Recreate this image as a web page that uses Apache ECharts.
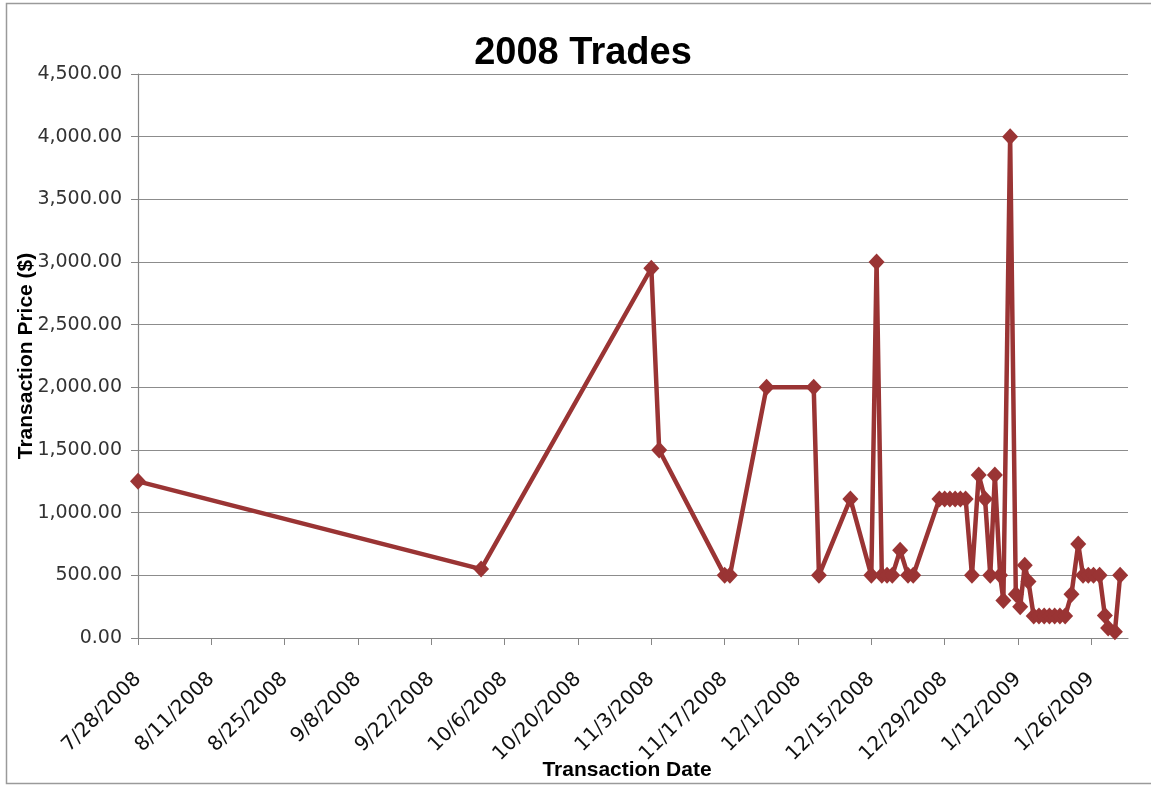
<!DOCTYPE html>
<html>
<head>
<meta charset="utf-8">
<script src="https://cdn.jsdelivr.net/npm/echarts@6/dist/echarts.min.js"></script>
<style>
html,body{margin:0;padding:0;background:#fff;}
#chart{width:1151px;height:785px;}
</style>
</head>
<body>
<div id="chart"></div>
<script>
// ---- data ----
var tradeDates = [
  '2008-07-28', '2008-10-01 12:00', '2008-11-03', '2008-11-04 12:00', '2008-11-17', '2008-11-18',
  '2008-11-25', '2008-12-04', '2008-12-05', '2008-12-11', '2008-12-15', '2008-12-16',
  '2008-12-17', '2008-12-18', '2008-12-19', '2008-12-20 12:00', '2008-12-22', '2008-12-23',
  '2008-12-28', '2008-12-29', '2008-12-30', '2008-12-31', '2009-01-01', '2009-01-02',
  '2009-01-03 05:00', '2009-01-04 12:00', '2009-01-05 17:00', '2009-01-06 17:00', '2009-01-07 14:00', '2009-01-08 14:00',
  '2009-01-09 05:00', '2009-01-10 12:00', '2009-01-11 14:00', '2009-01-12 10:00', '2009-01-13 07:00', '2009-01-14',
  '2009-01-15', '2009-01-16', '2009-01-17', '2009-01-18', '2009-01-19', '2009-01-20', '2009-01-21',
  '2009-01-22 05:00', '2009-01-23 12:00', '2009-01-24 10:00', '2009-01-25 10:00', '2009-01-26 10:00', '2009-01-27 14:00',
  '2009-01-28 14:00', '2009-01-29 05:00', '2009-01-30 12:00', '2009-01-31 12:00'
];
var tradePrices = [
  1250, 550, 2950, 1500, 500, 500,
  2000, 2000, 500, 1110, 500, 3000,
  500, 500, 500, 700, 500, 500,
  1110, 1110, 1110, 1110, 1110, 1110,
  500, 1300, 1110, 500, 1300, 500,
  300, 4000, 350, 250, 580, 450,
  175, 175, 175, 175, 175, 175, 175,
  350, 750, 500, 500, 500, 500,
  180, 80, 50, 500
];
var axisStartDate = '2008-07-28';
var axisEndDate = '2009-02-02';
var tickStepDays = 14;
var yMin = 0, yMax = 4500, yStep = 500;

// ---- helpers ----
function parseUTC(s) {
  var parts = s.split(' ');
  var d = parts[0].split('-');
  var t = parts[1] ? parts[1].split(':') : ['0', '0'];
  return Date.UTC(+d[0], +d[1] - 1, +d[2], +t[0], +t[1]);
}
var DAY = 86400000;
var base = parseUTC(axisStartDate);
function dayIndex(s) { return (parseUTC(s) - base) / DAY; }
function dayLabel(v) {
  var dt = new Date(base + Math.round(v) * DAY);
  return (dt.getUTCMonth() + 1) + '/' + dt.getUTCDate() + '/' + dt.getUTCFullYear();
}
function money(v) {
  return v.toFixed(2).replace(/\B(?=(\d{3})+(?!\d))/g, ',');
}

var points = tradeDates.map(function (d, i) { return [dayIndex(d), tradePrices[i]]; });

var chart = echarts.init(document.getElementById('chart'), null, {renderer: 'canvas'});
var axisColor = '#868686';
var lineColor = '#9a3434';

chart.setOption({
  animation: false,
  backgroundColor: '#ffffff',
  title: {
    text: '2008 Trades',
    left: 578, top: 30,
    textAlign: 'center',
    textStyle: {fontFamily: 'Liberation Sans, Arial, sans-serif', fontWeight: 'bold', fontSize: 38, color: '#000'}
  },
  graphic: [{
    type: 'rect', silent: true,
    shape: {x: 6.5, y: 3.5, width: 1160, height: 780},
    style: {fill: 'none', stroke: '#9a9a9a', lineWidth: 1.5}
  }],
  grid: {left: 138, right: 23, top: 74, bottom: 147, containLabel: false, outerBoundsMode: 'none'},
  xAxis: {
    type: 'value',
    min: 0,
    max: dayIndex(axisEndDate),
    interval: tickStepDays,
    name: 'Transaction Date',
    nameLocation: 'middle',
    nameGap: 122,
    nameMoveOverlap: false,
    nameTextStyle: {fontFamily: 'Liberation Sans, Arial, sans-serif', fontWeight: 'bold', fontSize: 21, color: '#000', verticalAlign: 'top', padding: [0, 12, 0, 0]},
    splitLine: {show: false},
    axisLine: {show: true, lineStyle: {color: axisColor, width: 1.2}},
    axisTick: {show: true, length: 7, inside: false, lineStyle: {color: axisColor}},
    axisLabel: {
      rotate: 45, margin: 38, showMaxLabel: false,
      fontFamily: 'DejaVu Sans, sans-serif', fontSize: 20, color: '#111',
      formatter: function (v) { return dayLabel(v); }
    }
  },
  yAxis: {
    type: 'value',
    min: yMin, max: yMax, interval: yStep,
    name: 'Transaction Price ($)',
    nameLocation: 'middle',
    nameGap: 112,
    nameMoveOverlap: false,
    nameTextStyle: {fontFamily: 'Liberation Sans, Arial, sans-serif', fontWeight: 'bold', fontSize: 21, color: '#000', verticalAlign: 'middle'},
    axisLine: {show: true, lineStyle: {color: axisColor, width: 1.2}},
    axisTick: {show: true, length: 7, inside: false, lineStyle: {color: axisColor}},
    splitLine: {show: true, lineStyle: {color: '#8c8c8c', width: 1.2}},
    axisLabel: {
      margin: 16,
      fontFamily: 'DejaVu Sans, sans-serif', fontSize: 19, color: '#333',
      formatter: function (v) { return money(v); }
    }
  },
  series: [{
    type: 'line',
    data: points,
    clip: false,
    symbol: 'diamond',
    symbolSize: [16, 17],
    showAllSymbol: true,
    itemStyle: {color: lineColor},
    lineStyle: {color: lineColor, width: 4.5},
    emphasis: {disabled: true}
  }]
});
</script>
</body>
</html>
